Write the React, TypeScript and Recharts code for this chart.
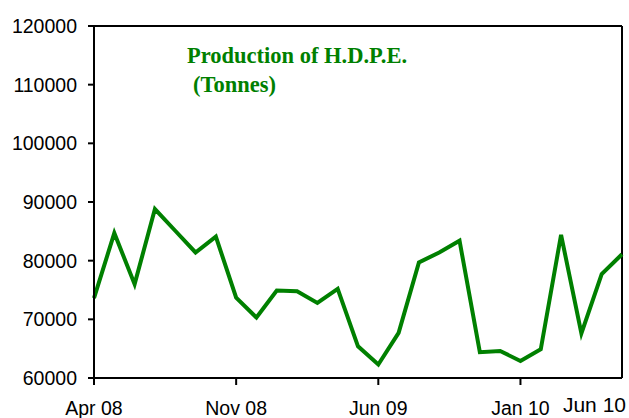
import React from "react";
import { LineChart, Line, XAxis, YAxis, ReferenceLine } from "recharts";

const months = [
    "Apr 08", "May 08", "Jun 08", "Jul 08", "Aug 08", "Sep 08", "Oct 08", "Nov 08", "Dec 08",
    "Jan 09", "Feb 09", "Mar 09", "Apr 09", "May 09", "Jun 09", "Jul 09", "Aug 09", "Sep 09",
    "Oct 09", "Nov 09", "Dec 09", "Jan 10", "Feb 10", "Mar 10", "Apr 10", "May 10", "Jun 10",
];

const production = [
    73600, 84700, 76000, 88800, 85100, 81400, 84100, 73700, 70300,
    74900, 74800, 72800, 75200, 65400, 62300, 67700, 79700, 81400,
    83400, 64400, 64600, 62900, 64900, 84400, 67600, 77700, 81100,
];

const xTicks = [0, 7, 14, 21, 26];
const yTicks = [60000, 70000, 80000, 90000, 100000, 110000, 120000];

const data = months.map((m, i) => ({ idx: i, month: m, value: production[i] }));

const GREEN = "#008000";
const SANS = "'Liberation Sans', Arial, sans-serif";
const SERIF = "'Liberation Serif', 'Times New Roman', serif";

function MonthTick({ x, y, payload }: { x?: number; y?: number; payload?: { value: number } }) {
    const i = payload?.value ?? 0;
    const last = i === months.length - 1;
    if (last) {
        return (
            <text x={(x ?? 0) + 4} y={(y ?? 0) + 34} textAnchor="end" fontSize={21} fontFamily={SANS} fill="#000">
                {months[i]}
            </text>
        );
    }
    return (
        <g>
            <line x1={x} x2={x} y1={y} y2={(y ?? 0) + 7} stroke="#000" strokeWidth={2} />
            <text x={x} y={(y ?? 0) + 37} textAnchor="middle" fontSize={19.5} fontFamily={SANS} fill="#000">
                {months[i]}
            </text>
        </g>
    );
}

export default function App() {
    return (
        <div style={{ position: "absolute", left: 0, top: 0, width: 629, height: 418, background: "#fff" }}>
            <LineChart width={629} height={418} data={data} margin={{ top: 26, right: 7, left: 0, bottom: 0 }}>
                <XAxis
                    dataKey="idx"
                    type="number"
                    domain={[0, 26]}
                    ticks={xTicks}
                    interval={0}
                    height={40}
                    tickLine={false}
                    tickSize={0}
                    tickMargin={0}
                    axisLine={{ stroke: "#000", strokeWidth: 2 }}
                    tick={<MonthTick />}
                />
                <YAxis
                    type="number"
                    domain={[60000, 120000]}
                    ticks={yTicks}
                    interval={0}
                    width={94}
                    tickSize={6}
                    tickMargin={11}
                    axisLine={{ stroke: "#000", strokeWidth: 2 }}
                    tickLine={{ stroke: "#000", strokeWidth: 2 }}
                    tick={{ fill: "#000", fontSize: 19.5, fontFamily: SANS }}
                />
                <ReferenceLine y={120000} stroke="#000" strokeWidth={2} />
                <ReferenceLine x={26} stroke="#000" strokeWidth={2} />
                <Line
                    type="linear"
                    dataKey="value"
                    stroke={GREEN}
                    strokeWidth={4}
                    dot={false}
                    activeDot={false}
                    isAnimationActive={false}
                />
            </LineChart>
            <svg width={629} height={418} style={{ position: "absolute", left: 0, top: 0, pointerEvents: "none" }}>
                <text x={187} y={63} fontSize={22.5} fontWeight="bold" fontFamily={SERIF} fill={GREEN}>
                    Production of H.D.P.E.
                </text>
                <text x={193} y={92} fontSize={22.5} fontWeight="bold" fontFamily={SERIF} fill={GREEN}>
                    (Tonnes)
                </text>
            </svg>
        </div>
    );
}
